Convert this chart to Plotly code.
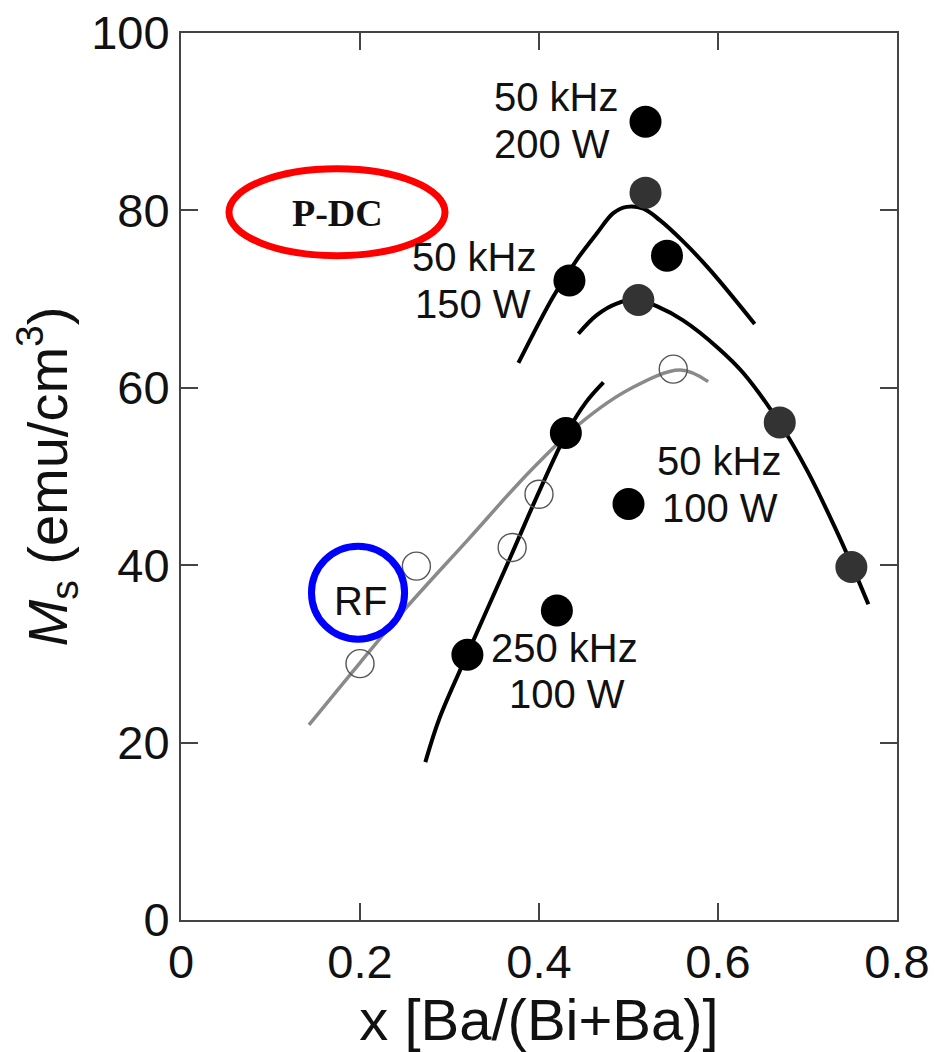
import plotly.graph_objects as go

# ---------------- data ----------------
# filled black points
black_x = [0.519, 0.434, 0.543, 0.430, 0.500, 0.420, 0.320]
black_y = [90.0, 72.1, 74.9, 54.9, 46.9, 34.9, 29.9]
# filled dark-gray points
dgray_x = [0.519, 0.511, 0.669, 0.749]
dgray_y = [82.0, 69.9, 56.1, 39.8]
# open circles (RF)
open_x = [0.550, 0.400, 0.370, 0.263, 0.200]
open_y = [62.1, 48.0, 42.0, 39.9, 28.9]

# guide curves
c150_x = [0.377, 0.416, 0.442, 0.4645, 0.483, 0.498, 0.5166, 0.535, 0.561, 0.591, 0.641]
c150_y = [62.8, 70.3, 74.4, 77.4, 79.7, 80.4, 80.2, 78.9, 76.5, 73.3, 67.2]

c100_x = [0.444, 0.4645, 0.4868, 0.511, 0.5315, 0.561, 0.600, 0.628, 0.669, 0.700, 0.730, 0.750, 0.768]
c100_y = [66.1, 68.2, 69.5, 69.9, 69.2, 67.6, 64.5, 61.7, 56.0, 50.6, 44.4, 39.9, 35.6]

crf_x = [0.143, 0.200, 0.2525, 0.320, 0.390, 0.446, 0.502, 0.558, 0.589]
crf_y = [22.0, 29.0, 35.3, 42.8, 50.6, 56.0, 59.9, 62.0, 60.7]

c250_x = [0.273, 0.289, 0.320, 0.368, 0.401, 0.431, 0.452, 0.472]
c250_y = [17.8, 22.8, 30.0, 40.9, 48.5, 54.9, 58.3, 60.6]

x_ticks = [0, 0.2, 0.4, 0.6, 0.8]
x_ticklabels = ["0", "0.2", "0.4", "0.6", "0.8"]
y_ticks = [0, 20, 40, 60, 80, 100]
y_ticklabels = ["0", "20", "40", "60", "80", "100"]

labels = [
    ("50 kHz", 0.3475, 92.8), ("200 W", 0.3475, 87.5),
    ("50 kHz", 0.2559, 74.7), ("150 W", 0.2592, 69.4),
    ("50 kHz", 0.5296, 51.7), ("100 W", 0.5352, 46.4),
    ("250 kHz", 0.3441, 30.7), ("100 W", 0.3642, 25.5),
]

# ---------------- figure ----------------
FONT = "Liberation Sans, Arial, sans-serif"
fig = go.Figure()

for cx, cy, col, w in [(crf_x, crf_y, "#8a8a8a", 3.5),
                       (c150_x, c150_y, "black", 4),
                       (c100_x, c100_y, "black", 4),
                       (c250_x, c250_y, "black", 4)]:
    fig.add_trace(go.Scatter(x=cx, y=cy, mode="lines",
                             line=dict(color=col, width=w, shape="spline", smoothing=1.0),
                             hoverinfo="skip", showlegend=False))

fig.add_trace(go.Scatter(x=open_x, y=open_y, mode="markers",
                         marker=dict(symbol="circle-open", size=28, color="#555555",
                                     line=dict(color="#555555", width=1.4)),
                         showlegend=False))
fig.add_trace(go.Scatter(x=dgray_x, y=dgray_y, mode="markers",
                         marker=dict(symbol="circle", size=32, color="#333333",
                                     line=dict(width=0)),
                         showlegend=False))
fig.add_trace(go.Scatter(x=black_x, y=black_y, mode="markers",
                         marker=dict(symbol="circle", size=32, color="black",
                                     line=dict(width=0)),
                         showlegend=False))

# red ellipse (P-DC) and blue circle (RF)
fig.add_shape(type="circle", xref="x", yref="y",
              x0=0.1743 - 0.1207, x1=0.1743 + 0.1207, y0=79.8 - 4.9, y1=79.8 + 4.9,
              line=dict(color="#ff0000", width=7), layer="above")
fig.add_shape(type="circle", xref="x", yref="y",
              x0=0.1978 - 0.052, x1=0.1978 + 0.052, y0=36.9 - 5.24, y1=36.9 + 5.24,
              line=dict(color="#0000ff", width=7), layer="above")

fig.add_annotation(x=0.1743, y=79.7, xref="x", yref="y", text="<b>P-DC</b>",
                   showarrow=False, font=dict(family="Liberation Serif, Times New Roman, serif",
                                              size=38, color="#111111"))
fig.add_annotation(x=0.2011, y=36.0, xref="x", yref="y", text="RF",
                   showarrow=False, font=dict(family=FONT, size=40, color="#111111"))

for txt, lx, ly in labels:
    fig.add_annotation(x=lx, y=ly, xref="x", yref="y", text=txt, showarrow=False,
                       xanchor="left", yanchor="middle",
                       font=dict(family=FONT, size=40, color="#111111"))

axis_common = dict(showline=True, linecolor="#444444", linewidth=2, mirror="ticks",
                   ticks="inside", ticklen=17, tickwidth=2, tickcolor="#444444",
                   showgrid=False, zeroline=False,
                   tickfont=dict(family=FONT, size=47, color="#111111"))

fig.update_xaxes(range=[0, 0.8], tickvals=x_ticks, ticktext=x_ticklabels,
                 ticklabelstandoff=0,
                 title=dict(text="x [Ba/(Bi+Ba)]", font=dict(family=FONT, size=58, color="#111111"),
                            standoff=12),
                 **axis_common)
fig.update_yaxes(range=[0, 100], tickvals=y_ticks, ticktext=y_ticklabels,
                 ticklabelstandoff=0,
                 title=dict(text="<i>M</i><sub>s</sub> (emu/cm<sup>3</sup>)",
                            font=dict(family=FONT, size=56, color="#111111"),
                            standoff=6),
                 **axis_common)

fig.update_layout(width=935, height=1052,
                  margin=dict(l=181, r=38, t=33, b=132, autoexpand=False),
                  paper_bgcolor="white", plot_bgcolor="white",
                  showlegend=False)

fig.write_html("out.html")
